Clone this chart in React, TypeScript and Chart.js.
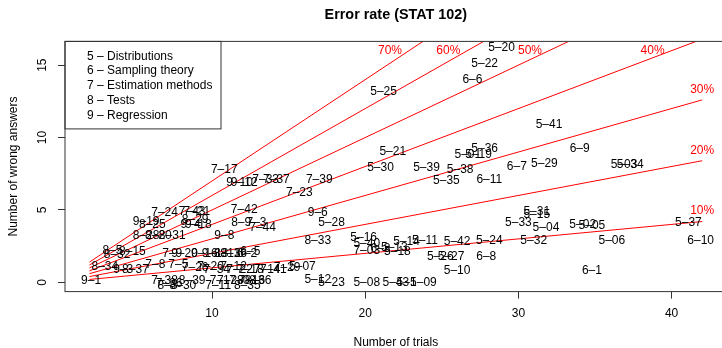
import React, { useEffect, useRef } from "react";
import { Chart, registerables } from "chart.js";

Chart.register(...registerables);

const FONT = "'Liberation Sans', Arial, Helvetica, sans-serif";

// ---- data (trials, wrong answers) per exercise label ----
const pointLabels = [
  "5–20", "5–22", "5–25", "5–41", "5–36", "5–01", "5–19", "5–21", "5–29", "5–30",
  "5–39", "5–38", "5–35", "5–03", "5–34", "5–28", "5–31", "5–15", "5–33", "5–04",
  "5–02", "5–05", "5–37", "5–16", "5–40", "5–14", "5–11", "5–42", "5–24", "5–32",
  "5–06", "5–13", "5–18", "5–26", "5–27", "5–10", "5–12", "5–23", "5–08", "5–43",
  "5–1", "5–09", "5–07",
  "6–6", "6–9", "6–7", "6–11", "6–8", "6–1", "6–10", "6–3", "6–5", "6–2",
  "7–17", "7–33", "7–37", "7–39", "7–23", "7–42", "7–24", "7–43", "7–21", "7–3",
  "7–44", "7–03", "7–9", "7–8", "7–5", "7–26", "7–20", "7–34", "7–12", "7–22",
  "7–18", "7–14", "7–41", "7–29", "7–38", "7–36", "7–1", "7–11", "7–28", "7–08",
  "7–16",
  "8–34", "8–5", "8–32", "8–15", "8–37", "8–25", "8–29", "8–9", "8–28", "8–20",
  "8–31", "8–33", "8–13", "8–16", "8–30", "8–39", "8–35", "8–36", "8–3",
  "9–1", "9–19", "9–4", "9–18", "9–8", "9–10", "9–12", "9–6", "9–20", "9–16",
  "9–3", "9–13",
];

const trials = [
  28.9, 27.8, 21.2, 32.0, 27.8, 26.7, 27.4, 21.8, 31.7, 21.0,
  24.0, 26.2, 25.3, 36.9, 37.3, 17.8, 31.2, 31.2, 30.0, 31.8,
  34.2, 34.8, 41.1, 19.9, 20.1, 22.7, 23.9, 26.0, 28.1, 31.0,
  36.1, 21.9, 22.1, 24.9, 25.6, 26.0, 16.9, 17.8, 20.1, 22.0,
  22.7, 23.8, 15.9,
  27.0, 34.0, 29.9, 28.1, 27.9, 34.8, 41.9, 21.0, 12.5, 12.3,
  10.8, 13.5, 14.2, 17.0, 15.7, 12.1, 6.9, 8.7, 9.0, 12.9,
  13.3, 20.1, 7.4, 6.3, 7.8, 8.9, 9.9, 10.3, 11.4, 11.8,
  12.5, 13.6, 14.0, 14.9, 6.9, 7.2, 10.5, 10.4, 11.2, 12.0,
  12.6,
  3.0, 3.5, 3.8, 4.8, 5.0, 6.1, 8.9, 11.9, 5.7, 6.5,
  7.4, 16.9, 11.0, 11.4, 8.1, 8.7, 12.3, 13.0, 7.1,
  2.1, 5.7, 8.6, 9.1, 10.8, 11.8, 12.1, 16.9, 8.2, 9.5,
  4.2, 10.2,
];

const wrong = [
  16.2, 15.1, 13.2, 10.9, 9.2, 8.8, 8.8, 9.0, 8.2, 7.9,
  7.9, 7.8, 7.0, 8.1, 8.1, 4.1, 4.9, 4.7, 4.1, 3.8,
  4.0, 3.9, 4.1, 3.1, 2.7, 2.8, 2.9, 2.8, 2.9, 2.9,
  2.9, 2.4, 2.1, 1.8, 1.8, 0.8, 0.2, 0.0, 0.0, 0.0,
  0.0, 0.0, 1.1,
  14.0, 9.2, 8.0, 7.1, 1.8, 0.8, 2.9, 2.3, 2.1, 2.0,
  7.8, 7.1, 7.1, 7.1, 6.2, 5.0, 4.8, 4.9, 4.9, 4.1,
  3.8, 2.2, 2.0, 1.2, 1.2, 1.0, 1.1, 0.9, 1.1, 0.9,
  0.9, 0.9, 0.9, 1.0, 0.1, -0.1, 0.1, -0.2, 0.1, 0.1,
  0.1,
  1.1, 2.2, 1.9, 2.1, 0.9, 4.0, 4.3, 4.1, 3.2, 3.2,
  3.2, 2.9, 2.0, 2.0, -0.2, 0.1, -0.2, 0.1, -0.2,
  0.1, 4.2, 4.0, 4.0, 3.2, 6.9, 6.9, 4.8, 2.0, 2.0,
  0.9, 2.0,
];

// ---- error-rate reference lines ----
const rates = [0.1, 0.2, 0.3, 0.4, 0.5, 0.6, 0.7];
const rateLabels = ["10%", "20%", "30%", "40%", "50%", "60%", "70%"];
const lineStart = 2;
const lineEnd = 42;
const topLabelLevel = 16;

// ---- legend / axes text ----
const legendItems = [
  "5 – Distributions",
  "6 – Sampling theory",
  "7 – Estimation methods",
  "8 – Tests",
  "9 – Regression",
];
const xTicks = [10, 20, 30, 40];
const yTicks = [0, 5, 10, 15];
const xRange = [0.4, 43.6];
const yRange = [-0.64, 16.64];
const titleText = "Error rate (STAT 102)";
const xTitle = "Number of trials";
const yTitle = "Number of wrong answers";

const annotate = {
  id: "annotate",
  afterDatasetsDraw(chart: any) {
    const { ctx, scales } = chart;
    const xs = scales.x;
    const ys = scales.y;
    ctx.save();
    // point labels
    const meta = chart.getDatasetMeta(0);
    ctx.font = `12px ${FONT}`;
    ctx.fillStyle = "#000";
    ctx.textAlign = "center";
    ctx.textBaseline = "middle";
    meta.data.forEach((el: any, i: number) => {
      ctx.fillText(pointLabels[i], el.x, el.y);
    });
    // rate labels
    ctx.fillStyle = "#ff0000";
    rates.forEach((r, i) => {
      if (r * lineEnd > topLabelLevel) {
        ctx.textAlign = "right";
        ctx.fillText(
          rateLabels[i],
          xs.getPixelForValue(topLabelLevel / r) - 7,
          ys.getPixelForValue(topLabelLevel)
        );
      } else {
        ctx.textAlign = "center";
        ctx.fillText(
          rateLabels[i],
          xs.getPixelForValue(lineEnd),
          ys.getPixelForValue(r * lineEnd) - 10.5
        );
      }
    });
    ctx.restore();
  },
  afterDraw(chart: any) {
    const { ctx, chartArea: ca, scales } = chart;
    const ys = scales.y;
    ctx.save();
    // plot frame
    ctx.strokeStyle = "#333";
    ctx.lineWidth = 1;
    ctx.strokeRect(ca.left, ca.top, ca.right - ca.left, ca.bottom - ca.top);
    // legend box
    ctx.strokeRect(ca.left, ca.top, 156, 87.5);
    ctx.fillStyle = "#000";
    ctx.font = `12px ${FONT}`;
    ctx.textAlign = "left";
    ctx.textBaseline = "middle";
    legendItems.forEach((t, i) => {
      ctx.fillText(t, ca.left + 22, ca.top + 14.8 + i * 14.8);
    });
    // y tick labels (rotated, R style)
    ctx.textAlign = "center";
    yTicks.forEach((v) => {
      ctx.save();
      ctx.translate(42.5, ys.getPixelForValue(v));
      ctx.rotate(-Math.PI / 2);
      ctx.fillText(String(v), 0, 0);
      ctx.restore();
    });
    // titles
    const cx = (ca.left + ca.right) / 2;
    ctx.font = `bold 14.4px ${FONT}`;
    ctx.fillText(titleText, cx, 15.5);
    ctx.font = `12px ${FONT}`;
    ctx.fillText(xTitle, cx, 343);
    ctx.save();
    ctx.translate(14, (ca.top + ca.bottom) / 2);
    ctx.rotate(-Math.PI / 2);
    ctx.fillText(yTitle, 0, 0);
    ctx.restore();
    ctx.restore();
  },
};

export default function App() {
  const ref = useRef<HTMLCanvasElement | null>(null);

  useEffect(() => {
    if (!ref.current) return;
    const points = trials.map((t, i) => ({ x: t, y: wrong[i] }));
    const lineSets = rates.map((r) => ({
      data: [
        { x: lineStart, y: r * lineStart },
        { x: lineEnd, y: r * lineEnd },
      ],
      showLine: true,
      borderColor: "#ff0000",
      borderWidth: 1,
      pointRadius: 0,
      fill: false,
    }));
    const chart = new Chart(ref.current, {
      type: "scatter",
      data: {
        datasets: [
          { data: points, pointRadius: 0, pointHoverRadius: 0 } as any,
          ...(lineSets as any[]),
        ],
      },
      options: {
        responsive: false,
        animation: false,
        events: [],
        layout: { padding: { top: 41.4, right: 13.3, left: 0, bottom: 0 } },
        plugins: {
          legend: { display: false },
          tooltip: { enabled: false },
          title: { display: false },
        },
        scales: {
          x: {
            type: "linear",
            min: xRange[0],
            max: xRange[1],
            afterBuildTicks: (s: any) => {
              s.ticks = xTicks.map((v) => ({ value: v }));
            },
            afterFit: (s: any) => {
              s.height = 56.4;
            },
            ticks: {
              autoSkip: false,
              maxRotation: 0,
              minRotation: 0,
              padding: 8,
              color: "#000",
              font: { family: FONT, size: 12 },
              callback: (v: any) => String(v),
            },
            grid: {
              drawOnChartArea: false,
              drawTicks: true,
              tickLength: 7,
              color: "#333",
              lineWidth: 1,
            },
            border: { display: false },
          },
          y: {
            type: "linear",
            min: yRange[0],
            max: yRange[1],
            afterBuildTicks: (s: any) => {
              s.ticks = yTicks.map((v) => ({ value: v }));
            },
            afterFit: (s: any) => {
              s.width = 65;
            },
            ticks: { display: false },
            grid: {
              drawOnChartArea: false,
              drawTicks: true,
              tickLength: 7,
              color: "#333",
              lineWidth: 1,
            },
            border: { display: false },
          },
        },
      },
      plugins: [annotate],
    });
    return () => chart.destroy();
  }, []);

  return (
    <div
      style={{
        position: "absolute",
        left: 0,
        top: 0,
        width: 722,
        height: 348,
        overflow: "hidden",
        background: "#fff",
      }}
    >
      <canvas
        ref={ref}
        width={740}
        height={348}
        style={{ width: 740, height: 348, display: "block" }}
      />
    </div>
  );
}
